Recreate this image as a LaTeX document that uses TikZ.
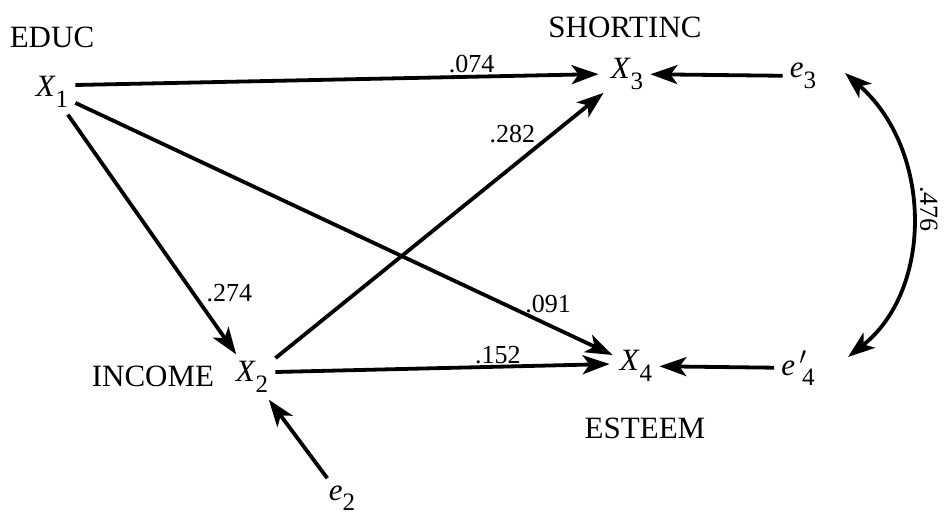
\documentclass[tikz,border=0pt]{standalone}
\usepackage{fontspec}
\setmainfont{Liberation Serif}
\usetikzlibrary{arrows.meta}
\newcommand{\pvar}[2]{\textit{#1}\raisebox{-0.34em}{\fontsize{25}{25}\selectfont #2}}
\tikzset{
  x=1pt, y=-1pt,
  every node/.style={font=\fontsize{31}{31}\selectfont},
  varnode/.style={inner sep=7pt},
  path/.style={line width=3.8pt, -{Stealth[length=27pt,width=19pt,inset=7pt]}},
  twoway/.style={line width=3.8pt, {Stealth[length=27pt,width=19pt,inset=7pt]}-{Stealth[length=27pt,width=19pt,inset=7pt]}},
  coef/.style={font=\fontsize{26}{26}\selectfont, inner sep=1pt},
}
\begin{document}
\begin{tikzpicture}
\useasboundingbox (0,0) rectangle (944,518);

% variable labels
\node (educ) at (52,37) {EDUC};
\node (short) at (625,27) {SHORTINC};
\node (inc) at (153,376) {INCOME};
\node (est) at (645,428) {ESTEEM};

% variables and disturbances
\node[varnode] (x1) at (52,92) {\pvar{X}{1}};
\node[varnode] (x2) at (252,377) {\pvar{X}{2}};
\node[varnode] (x3) at (627,74) {\pvar{X}{3}};
\node[varnode] (x4) at (636,366) {\pvar{X}{4}};
\node[varnode] (e2) at (342,498) {\pvar{e}{2}};
\node[varnode] (e3) at (803,76) {\pvar{e}{3}};
\node[varnode] (e4) at (798,368) {\textit{e}\,\raisebox{0.35em}{\fontsize{25}{25}\selectfont\kern-1pt$\prime$}\kern-4pt\raisebox{-0.34em}{\fontsize{25}{25}\selectfont 4}};

% structural paths
\draw[path, shorten >=5pt] ([yshift=7pt]x1.east) -- node[coef, pos=0.75, above, yshift=1pt] {.074} (x3.west);
\draw[path] (x1) -- node[coef, pos=0.76, right, xshift=8pt, yshift=4pt] {.274} (x2);
\draw[path] (x1) -- node[coef, pos=0.88, above, yshift=9pt] {.091} (x4);
\draw[path] (x2) -- node[coef, pos=0.8, anchor=south east] {.282} (x3);
\draw[path, shorten >=3pt] ([yshift=5pt]x2.east) -- node[coef, pos=0.66, above] {.152} ([yshift=2pt]x4.west);

% disturbance paths
\draw[path] (e2) -- (x2);
\draw[path] (e3) -- (x3);
\draw[path] (e4) -- (x4);

% correlated disturbances
\coordinate (c3) at (845,73);
\coordinate (c4) at (848,357);
\draw[twoway]
  (c3) .. controls (933,150) and (933,290) .. node[coef, pos=0.47, rotate=-90, anchor=south, inner sep=7pt] {.476} (c4);
\end{tikzpicture}
\end{document}
